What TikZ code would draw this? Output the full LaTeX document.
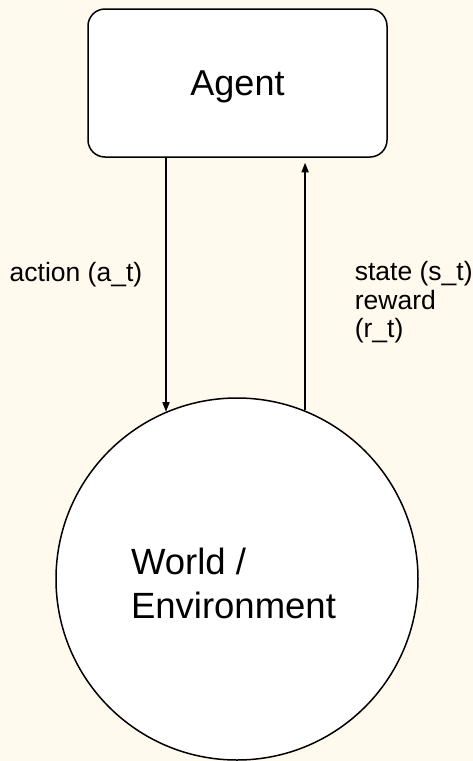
\documentclass[tikz,border=0pt]{standalone}
\usepackage{fontspec}
\setmainfont{Liberation Sans}
\usepackage{xcolor}
\usepackage{tikz}
\usetikzlibrary{arrows.meta, positioning, shapes.geometric}

\definecolor{bgcream}{HTML}{FFF9EE}

\begin{document}
\begin{tikzpicture}[
    x=1pt, y=-1pt,
    agentbox/.style={rectangle, rounded corners=17pt, draw=black, fill=white,
        line width=1.5pt, minimum width=299pt, minimum height=148pt,
        text depth=0pt, font=\fontsize{36}{44}\selectfont},
    worldnode/.style={circle, draw=black, fill=white, line width=1.5pt,
        minimum size=362pt, inner sep=0pt},
    worldtext/.style={inner sep=0pt, align=left, font=\fontsize{36.5}{44}\selectfont},
    arrow/.style={-{Triangle[length=9.5pt, width=7pt]}, line width=1.5pt, color=black},
    lbl/.style={inner sep=0pt, align=left, font=\fontsize{26.5}{28.5}\selectfont},
]

% --- Background / canvas ---
\fill[bgcream] (0,0) rectangle (473,761);
\useasboundingbox (0,0) rectangle (473,761);

% --- Agent ---
\node[agentbox] (agent) at (237.5,83) {Agent};

% --- World ---
\node[worldnode] (world) at (237,579) {};
\node[worldtext, xshift=-3.5pt, yshift=-4pt] (worldlbl) at (world) {World /\\Environment};

% --- Arrows ---
\draw[arrow] (agent.south -| world.113) -- (world.113)
    node[lbl, pos=0.46, left=23pt] {action (a\_t)};
\draw[arrow, shorten >=5pt] (world.68.6) -- (world.68.6 |- agent.south)
    node[lbl, pos=0.427, right=49pt] {state (s\_t)\\reward\\(r\_t)};

\end{tikzpicture}
\end{document}
